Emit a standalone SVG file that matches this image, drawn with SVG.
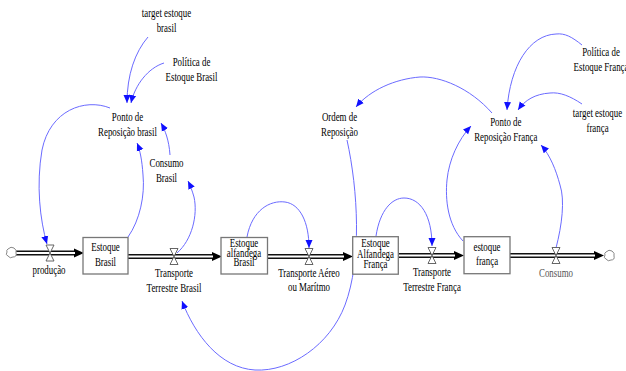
<svg xmlns="http://www.w3.org/2000/svg" width="626" height="371" viewBox="0 0 626 371">
<style>
.t{font-family:"Liberation Serif","Times New Roman",serif;font-size:12.5px;text-anchor:middle;fill:#000}
.g{fill:#555}
.box{fill:#fff;stroke:#777;stroke-width:1.3}
.pipeo{stroke:#111;stroke-width:5;fill:none}
.pipei{stroke:#fff;stroke-width:2.2;fill:none}
.valve{fill:#fff;stroke:#555;stroke-width:0.9}
.cloud{fill:#fff;stroke:#888;stroke-width:1}
.link{fill:none;stroke:#6b6bff;stroke-width:1}
</style>
<defs>
<marker id="ab" markerUnits="userSpaceOnUse" markerWidth="9" markerHeight="8" refX="8" refY="4" orient="auto">
<path d="M0,0.5 L8,4 L0,7.5 Z" fill="#1010ff"/>
</marker>
<marker id="ak" markerUnits="userSpaceOnUse" markerWidth="11" markerHeight="10" refX="0" refY="5" orient="auto">
<path d="M0,0.5 L10,5 L0,9.5 Z" fill="#000"/>
</marker>
</defs>

<g id="flows">
<path class="pipeo" d="M16,253 H74" marker-end="url(#ak)"/>
<path class="pipei" d="M16,253 H75"/>
<path class="pipeo" d="M128,256.5 H212" marker-end="url(#ak)"/>
<path class="pipei" d="M128,256.5 H213"/>
<path class="pipeo" d="M267.5,256.5 H343" marker-end="url(#ak)"/>
<path class="pipei" d="M267.5,256.5 H344"/>
<path class="pipeo" d="M398.3,255.5 H454" marker-end="url(#ak)"/>
<path class="pipei" d="M398.3,255.5 H455"/>
<path class="pipeo" d="M510,255.5 H594" marker-end="url(#ak)"/>
<path class="pipei" d="M510,255.5 H595"/>
</g>

<g id="cloud-left"><path class="cloud" d="M8,249 q3,-3 6,-1 q3,2 2,5 q1,4 -3,4 q-3,2 -5,-1 q-3,-1 -1,-4 q-1,-2 1,-3 Z"/></g>
<g id="cloud-right"><path class="cloud" d="M606,252 q3,-3 6,-1 q3,2 2,5 q1,4 -3,4 q-3,2 -5,-1 q-3,-1 -1,-4 q-1,-2 1,-3 Z"/></g>

<g id="connectors">
<path class="link" d="M148,37 C135,52 127,75 127,103" marker-end="url(#ab)"/>
<path class="link" d="M164,63 C148,68 135,85 131,103" marker-end="url(#ab)"/>
<path class="link" d="M110,108 C85,98 50,110 42,150 C36,185 40,220 47,244" marker-end="url(#ab)"/>
<path class="link" d="M128,237 C140,220 145,195 143,175 C142,160 140,150 137,143" marker-end="url(#ab)"/>
<path class="link" d="M170,155 C169,140 165,130 161,123" marker-end="url(#ab)"/>
<path class="link" d="M177,253 C192,240 198,215 194,197 C192,190 190,185 188,181" marker-end="url(#ab)"/>
<path class="link" d="M247,237 C252,210 270,200 285,202 C300,204 309,222 309,248" marker-end="url(#ab)"/>
<path class="link" d="M376,236 C380,210 392,198 404,198 C420,198 432,215 432,246" marker-end="url(#ab)"/>
<path class="link" d="M347,140 C358,190 362,260 345,305 C330,345 290,372 255,370 C220,368 195,335 182,301" marker-end="url(#ab)"/>
<path class="link" d="M492,113 C470,88 440,76 420,77 C395,79 370,90 356,107" marker-end="url(#ab)"/>
<path class="link" d="M582,45 C572,37 565,33 556,34 C530,35 510,65 507,110" marker-end="url(#ab)"/>
<path class="link" d="M582,104 C570,96 560,92 550,93 C535,94 525,100 518,110" marker-end="url(#ab)"/>
<path class="link" d="M463,241 C448,225 445,200 447,180 C449,160 458,140 471,126" marker-end="url(#ab)"/>
<path class="link" d="M556,248 C562,225 565,200 560,185 C556,170 550,155 541,145" marker-end="url(#ab)"/>
</g>

<g id="producao">
<path class="valve" d="M46,245 H54 L46,261 H54 Z"/>
<text class="t" transform="translate(49 0) scale(0.71 1)"><tspan x="0" y="274">produção</tspan></text>
</g>
<g id="transporte-terrestre-brasil">
<path class="valve" d="M170,248.5 H178 L170,264.5 H178 Z"/>
<text class="t" transform="translate(174 0) scale(0.71 1)"><tspan x="0" y="277">Transporte</tspan><tspan x="0" y="292.5">Terrestre Brasil</tspan></text>
</g>
<g id="transporte-aereo">
<path class="valve" d="M305,248.5 H313 L305,264.5 H313 Z"/>
<text class="t" transform="translate(309 0) scale(0.71 1)"><tspan x="0" y="277">Transporte Aéreo</tspan><tspan x="0" y="291.5">ou Marítmo</tspan></text>
</g>
<g id="transporte-terrestre-franca">
<path class="valve" d="M428,247.5 H436 L428,263.5 H436 Z"/>
<text class="t" transform="translate(432 0) scale(0.71 1)"><tspan x="0" y="276">Transporte</tspan><tspan x="0" y="291">Terrestre França</tspan></text>
</g>
<g id="consumo">
<path class="valve" d="M552,247.5 H560 L552,263.5 H560 Z"/>
<text class="t g" transform="translate(556 0) scale(0.71 1)"><tspan x="0" y="277">Consumo</tspan></text>
</g>

<g id="estoque-brasil">
<rect class="box" x="83" y="237.5" width="45" height="36.5"/>
<text class="t" transform="translate(105.5 0) scale(0.71 1)"><tspan x="0" y="251">Estoque</tspan><tspan x="0" y="266">Brasil</tspan></text>
</g>
<g id="estoque-alfandega-brasil">
<rect class="box" x="221" y="237.5" width="46.5" height="36.5"/>
<text class="t" transform="translate(244 0) scale(0.71 1)"><tspan x="0" y="247.5">Estoque</tspan><tspan x="0" y="257.5">alfandega</tspan><tspan x="0" y="266.5">Brasil</tspan></text>
</g>
<g id="estoque-alfandega-franca">
<rect class="box" x="352.7" y="236.7" width="45.6" height="37.5"/>
<text class="t" transform="translate(375.5 0) scale(0.71 1)"><tspan x="0" y="247">Estoque</tspan><tspan x="0" y="258.5">Alfandega</tspan><tspan x="0" y="268.5">França</tspan></text>
</g>
<g id="estoque-franca">
<rect class="box" x="464" y="236.7" width="46" height="37"/>
<text class="t" transform="translate(487 0) scale(0.71 1)"><tspan x="0" y="251.5">estoque</tspan><tspan x="0" y="265.5">frança</tspan></text>
</g>

<g id="target-estoque-brasil">
<text class="t" transform="translate(166.5 0) scale(0.71 1)"><tspan x="0" y="17.5">target estoque</tspan><tspan x="0" y="32.5">brasil</tspan></text>
</g>
<g id="politica-estoque-brasil">
<text class="t" transform="translate(191.5 0) scale(0.71 1)"><tspan x="0" y="66">Política de</tspan><tspan x="0" y="81.5">Estoque Brasil</tspan></text>
</g>
<g id="ponto-reposicao-brasil">
<text class="t" transform="translate(127.5 0) scale(0.71 1)"><tspan x="0" y="121">Ponto de</tspan><tspan x="0" y="136">Reposição brasil</tspan></text>
</g>
<g id="consumo-brasil">
<text class="t" transform="translate(166.5 0) scale(0.71 1)"><tspan x="0" y="167.5">Consumo</tspan><tspan x="0" y="182.5">Brasil</tspan></text>
</g>
<g id="ordem-reposicao">
<text class="t" transform="translate(339.5 0) scale(0.71 1)"><tspan x="0" y="121">Ordem de</tspan><tspan x="0" y="136.5">Reposição</tspan></text>
</g>
<g id="ponto-reposicao-franca">
<text class="t" transform="translate(505.8 0) scale(0.71 1)"><tspan x="0" y="126">Ponto de</tspan><tspan x="0" y="141">Reposição França</tspan></text>
</g>
<g id="politica-estoque-franca">
<text class="t" transform="translate(601 0) scale(0.71 1)"><tspan x="0" y="56">Política de</tspan><tspan x="0" y="71.5">Estoque França</tspan></text>
</g>
<g id="target-estoque-franca">
<text class="t" transform="translate(597.5 0) scale(0.71 1)"><tspan x="0" y="117.5">target estoque</tspan><tspan x="0" y="132.5">frança</tspan></text>
</g>
</svg>
